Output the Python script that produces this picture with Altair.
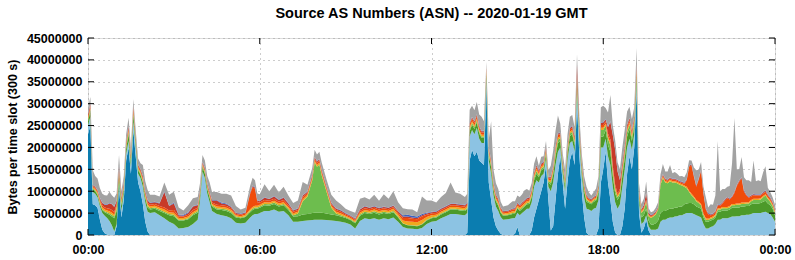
import altair as alt
import pandas as pd

# ---------------- data (values in millions of bytes per 5-min slot) ----------------
times = [
    "00:00","00:05","00:10","00:15","00:20","00:25","00:30","00:35","00:40","00:45",
    "00:50","00:55","01:00","01:05","01:10","01:15","01:20","01:25","01:30","01:35",
    "01:40","01:45","01:50","01:55","02:00","02:05","02:10","02:20","02:30","02:40",
    "02:50","03:00","03:10","03:20","03:30","03:40","03:50","03:55","04:00","04:05",
    "04:10","04:15","04:20","04:30","04:40","04:50","05:00","05:10","05:20","05:30",
    "05:40","05:45","05:50","05:55","06:00","06:10","06:20","06:30","06:40","06:50",
    "07:00","07:10","07:20","07:30","07:40","07:50","07:55","08:00","08:05","08:10",
    "08:20","08:30","08:40","08:50","09:00","09:10","09:20","09:30","09:40","09:50",
    "10:00","10:10","10:20","10:30","10:40","10:50","11:00","11:10","11:20","11:30",
    "11:40","11:50","12:00","12:10","12:20","12:30","12:40","12:50","13:00","13:10",
    "13:15","13:20","13:25","13:30","13:35","13:40","13:45","13:50","13:55","14:00",
    "14:05","14:10","14:15","14:20","14:25","14:30","14:40","14:50","14:55","15:00",
    "15:05","15:10","15:15","15:20","15:25","15:30","15:35","15:40","15:45","15:50",
    "15:55","16:00","16:05","16:10","16:15","16:20","16:25","16:30","16:35","16:40",
    "16:45","16:50","16:55","17:00","17:05","17:10","17:15","17:20","17:25","17:30",
    "17:35","17:40","17:45","17:50","17:55","18:00","18:05","18:10","18:15","18:20",
    "18:25","18:30","18:35","18:40","18:45","18:50","18:55","19:00","19:05","19:10",
    "19:15","19:20","19:25","19:30","19:35","19:40","19:45","19:50","19:55","20:00",
    "20:05","20:10","20:15","20:20","20:25","20:30","20:35","20:40","20:45","20:50",
    "20:55","21:00","21:05","21:10","21:15","21:20","21:25","21:30","21:35","21:40",
    "21:45","21:50","21:55","22:00","22:05","22:10","22:15","22:20","22:25","22:30",
    "22:35","22:40","22:45","22:50","22:55","23:00","23:05","23:10","23:15","23:20",
    "23:25","23:30","23:35","23:40","23:45","23:50","23:55","24:00",
]

as_dark_blue = [
    23, 25, 7, 6.8, 6.2, 3.5, 1.2, .4, .1, 0,
    0, 0, 2, 11, 4, 8, 17, 20, 14, 24,
    18, 12, 10, 7, 3, .8, 0, 0, 0, 0,
    0, 0, 0, 0, 0, 0, 0, 0, 0, 0,
    0, 0, 0, 0, 0, 0, 0, 0, 0, 0,
    0, 0, 0, 0, 0, 0, 0, 0, 0, 0,
    0, 0, 0, 0, 0, 0, 0, 0, 0, 0,
    0, 0, 0, 0, 0, 0, 0, 0, 0, 0,
    0, 0, 0, 0, 0, 0, 0, 0, 0, 0,
    0, 0, 0, 0, 0, 0, 0, 0, 0, 0,
    .5, 17, 19.5, 18, 19, 17, 16.5, 16, 34, 12,
    8, 4, 2, 1, .3, 0, 0, 0, .3, 1.8,
    0, 0, 0, 0, 0, 1, 4, 6, 8, 10,
    12, 16, 8, 1, 2, 8, 14, 18, 12, 6,
    12, 17, 19, 16, 30, 18, 10, 4, .5, 0,
    0, 0, 0, 1.5, 12, 15, 19, 12, 8, 3,
    .5, 0, 0, 2, 6, 14, 18, 15, 20, 33,
    5, .5, 1.5, 3.5, 1, 0, 0, 0, 0, 0,
    0, 0, 0, 0, 0, 0, 0, 0, 0, 0,
    0, 0, 0, 0, 0, 0, 0, 0, 0, 0,
    0, 0, 0, 0, 0, 0, 0, 0, 0, 0,
    0, 0, 0, 0, 0, 0, 0, 0, 0, 0,
    0, 0, 0, 0, 0, 0, 0, 0,
]

as_light_blue = [
    2, 2, 2.8, 2.6, 2.4, 3, 3.8, 4, 3.8, 3.2,
    2.2, .8, .5, 1, 1.5, 1.5, 1.5, 1.5, 1.5, 2,
    2, 2, 3, 4, 4.5, 4.5, 5, 5.2, 4.5, 3.8,
    3, 2.5, 1.5, 1.6, 1.8, 2.5, 3.5, 8, 14.5, 13,
    9.5, 7.5, 5.5, 4.8, 4.5, 4.3, 3.8, 2.8, 2.6, 2.8,
    4, 4.5, 4.8, 4.8, 5, 5.5, 5.5, 5.8, 5.3, 5.5,
    4.5, 3, 3, 3.2, 3.3, 3.4, 3.5, 3.5, 3.5, 3.5,
    3.4, 3.3, 3.2, 3, 2.8, 2.4, 1.5, 3.2, 3.8, 3.6,
    3.8, 3.5, 3.8, 3.6, 4, 3, 1.8, 1.5, 1.4, 1.3,
    1.6, 2.5, 3, 3.2, 3.8, 4.3, 4.8, 4.8, 4.6, 4.5,
    4.5, 5.5, 4.5, 5, 5.5, 5, 4.5, 5, 1.5, 5,
    6, 5, 4.5, 4.5, 3.8, 3.5, 3.6, 3.8, 3.6, 3.3,
    4.5, 5, 5.5, 6, 6, 6.5, 7, 6.5, 4, 3.5,
    2, 1.5, 3, 9, 10, 8, 5, 2, 2, 4,
    5, 4, 2.5, 3, 3, 3, 3.5, 4.5, 5.5, 5.8,
    5.5, 6, 6.2, 6.5, 8, 5, 3, 6, 8, 8,
    7, 6, 7, 9, 9, 6, 4, 4.5, 3, 1.5,
    2.5, 2, 1.5, 1, 1, 1.2, 1.2, 1.2, 1.5, 3,
    3.5, 3.5, 3.8, 4, 4, 4.2, 4.3, 4.5, 4.5, 4.8,
    5, 5, 5, 4.8, 4.5, 4.3, 4, 2.5, 1.5, 1.5,
    1.8, 2, 2.5, 3.5, 3.5, 3.8, 3.8, 3.8, 4, 4.2,
    4.2, 4.3, 4.3, 4.5, 4.5, 4.6, 4.6, 4.8, 5, 5,
    5, 5, 5.2, 5.3, 5, 4.8, 4, 3,
]

as_dark_green = [
    1, 1.2, .6, .6, .6, .6, .7, .8, 1, 1.4,
    2, 3, 3, 1.5, 1.2, 1, 1.2, 1.5, 1.2, 1.5,
    1, .8, .8, 1, 1, 1, .8, .8, 1, 1.2,
    1.5, 1.8, 1.8, 1.7, 1.8, 2, 1.6, 1.2, 1, 1,
    1, 1, 1, 1, 1.2, 1.2, 1.2, 1.2, 1.2, 1.3,
    1.2, 1.2, 1.2, 1.2, 1.2, 1.3, 1.2, 1.3, 1.2, 1.3,
    1.2, 1.2, 1.3, 1.5, 1.5, 1.6, 1.6, 1.6, 1.6, 1.6,
    1.5, 1.4, 1.3, 1.2, 1.1, 1, 1.2, 1.2, 1.2, 1.2,
    1.3, 1.2, 1.2, 1.2, 1.2, 1, .8, .7, .7, .7,
    .8, .8, .8, .8, .9, .9, 1, 1, 1, 1,
    1, 1.2, 1.2, 1.2, 1.3, 1.2, 1.2, 1.2, 1.2, 1.3,
    1.5, 1.3, 1.2, 1.2, 1, .9, .9, 1, 1, 1,
    1, 1, 1, 1, 1.1, 1.2, 1.5, 1.5, 1.2, 1.3,
    1.2, 1, 1, 1.5, 1.8, 2, 2, 1.5, 1.2, 1.2,
    1.5, 1.6, 1.5, 1.5, 1.5, 1.5, 1.3, 1.5, 1.6, 1.5,
    1.5, 1.6, 1.7, 1.8, 2.5, 2.5, 2, 2.5, 3, 2.5,
    2, 2, 2, 2.5, 2.5, 2.5, 2.2, 2, 1.8, 1.5,
    1.2, 1.5, 1.5, 1.5, 1.3, 1.2, 1.2, 1.5, 1.8, 2,
    2, 2, 2, 2, 2, 2, 2, 2, 2, 2.2,
    2.2, 2.3, 2.3, 2.2, 2, 2, 2, 1.5, 1.5, 1.5,
    1.5, 1.5, 1.5, 1.8, 1.8, 1.8, 1.8, 1.8, 1.8, 2,
    2, 2, 2, 2, 2, 2, 2, 2.2, 2.2, 2.2,
    2.2, 2.3, 2.4, 2.5, 2.2, 2, 2, 1.5,
]

as_light_green = [
    .4, .4, .2, .2, .2, .2, .2, .2, .3, .3,
    .4, .4, .5, .5, .4, .4, .4, .5, .4, .5,
    .4, .3, .3, .3, .3, .3, .3, .3, .3, .3,
    .3, .3, .2, .2, .2, .3, .3, .3, .3, .3,
    .3, .3, .3, .3, .3, .3, .3, .2, .2, .2,
    .3, .3, .3, .3, .3, .3, .3, .3, .3, .3,
    .3, .3, .6, 3, 4, 7.5, 11.5, 10.5, 11, 8.5,
    5, 1.5, .4, .3, .2, .2, .2, .3, .3, .3,
    .3, .3, .3, .3, .3, .2, .1, .1, .1, .1,
    .1, .2, .2, .2, .2, .2, .2, .2, .2, .2,
    .2, .4, .4, .4, .4, .4, .3, .3, .4, .4,
    .4, .3, .3, .3, .2, .2, .2, .2, .2, .2,
    .3, .3, .3, .3, .3, .4, .5, .6, .4, .4,
    .4, .4, .3, .5, .6, .8, .8, .6, .5, .5,
    .6, .6, .6, .6, .8, .6, .5, .4, .4, .3,
    .3, .3, .3, .4, 1.5, 1.5, 1, 1.5, 1.5, 1,
    .8, .6, .6, 1, 1, 1, 1, .8, .8, 1,
    .4, 1, 1.2, 1.5, 1, 1.5, 1.8, 2, 2.5, 6.5,
    7.5, 6.5, 6, 6.3, 6, 5.8, 5.5, 5, 4.8, 4,
    3.5, 2.5, 1.8, 1.5, 1.2, 1, .8, .6, .5, .4,
    .4, .4, .4, .5, .5, .5, .5, .5, .5, .6,
    .6, .6, .6, .6, .6, .6, .6, .7, .8, .8,
    .8, .8, 1, 1.2, 1, .8, .6, .5,
]

as_yellow = [
    .3, .3, .3, .3, .3, .4, .4, .4, .4, .5,
    .5, .5, .5, .4, .4, .3, .4, .4, .3, .4,
    .3, .3, .3, .4, .4, .4, .4, .4, .4, .5,
    .4, .5, .4, .4, .4, .4, .4, .3, .3, .3,
    .3, .3, .3, .4, .4, .4, .4, .3, .3, .3,
    .4, .4, .4, .4, .4, .4, .4, .4, .4, .4,
    .4, .4, .4, .4, .4, .4, .4, .4, .4, .4,
    .4, .4, .4, .4, .3, .3, .3, .4, .4, .4,
    .4, .4, .4, .4, .5, .5, .6, .8, .8, .8,
    .9, .6, .5, .4, .4, .4, .4, .4, .4, .4,
    .4, .5, .4, .4, .4, .4, .4, .4, .4, .4,
    .4, .4, .4, .4, .3, .3, .3, .4, .4, .4,
    .4, .4, .4, .4, .4, .4, .4, .5, .4, .4,
    .4, .4, .3, .4, .4, .5, .5, .4, .4, .4,
    .4, .4, .4, .4, .5, .4, .4, .4, .4, .3,
    .3, .3, .3, .4, .5, .5, .4, .5, .5, .5,
    .5, .4, .4, .4, .5, .5, .5, .5, .5, .5,
    .4, .3, .3, .3, .2, .2, .2, .2, .2, .3,
    .3, .3, .3, .3, .3, .3, .3, .3, .3, .3,
    .3, .3, .3, .3, .3, .3, .3, .3, .3, .3,
    .3, .3, .3, .3, .3, .3, .3, .3, .3, .3,
    .3, .3, .3, .3, .3, .3, .3, .3, .3, .3,
    .3, .3, .3, .3, .3, .3, .3, .3,
]

as_orange = [
    .4, .5, .3, .3, .3, .4, .5, .5, .5, .6,
    .6, .5, .5, .5, .4, .4, .4, .5, .4, .6,
    .4, .3, .3, .4, .4, .4, .4, .4, .4, .5,
    .4, .6, .3, .3, .4, .5, .4, .3, .3, .3,
    .3, .3, .3, .4, .4, .4, .4, .3, .3, .3,
    3.5, 4.5, 3.8, .8, .5, .5, .4, .5, .4, .5,
    .4, .4, .4, .5, .4, .5, .5, .5, .5, .5,
    .4, .4, .4, .4, .3, .3, .3, .4, .4, .4,
    .4, .4, .4, .4, .4, .4, .6, .8, .7, .7,
    .8, .5, .4, .4, .4, .4, .4, .4, .4, .4,
    .4, .6, .6, .6, .6, .5, .5, .5, .6, .5,
    .5, .5, .5, .5, .4, .3, .3, .4, .4, .4,
    .4, .4, .4, .4, .4, .5, .5, .5, .4, .4,
    .4, .5, .4, .5, .5, .6, .6, .5, .4, .4,
    .5, .5, .5, .5, .6, .5, .4, .4, .4, .3,
    .3, .3, .3, .4, .6, .6, .5, .6, .8, .8,
    .6, .5, .5, .5, .5, .5, .5, .5, .5, .6,
    .4, .3, .3, .3, .2, .2, .2, .2, .2, .3,
    .3, .3, .3, .3, .3, .3, .3, .3, .3, .4,
    1.5, 5.5, 6.5, 4.5, 3, 5, 7.5, 4.5, 2, 1,
    .5, .4, .5, .6, .6, .8, 1.5, 2, 1.5, 1.5,
    2.5, 4, 5, 5.5, 2.5, 1.5, 1, .8, .8, .7,
    .7, .6, .6, .6, .5, .4, .4, .3,
]

as_red = [
    .4, .5, .2, .2, .2, .3, .5, .6, .8, 1.2,
    1.3, 1.2, .8, .8, .5, .4, .4, .5, .4, .5,
    .4, .3, .3, .4, .4, .5, .4, .4, .6, 3.5,
    1, 1.5, .3, .2, .4, .8, .6, .3, .3, .3,
    .3, .4, .5, 1, .4, .4, .3, .2, .2, .2,
    .3, .3, .3, .3, .3, .5, .4, .5, .4, .5,
    .4, .3, .3, .4, .3, .3, .3, .3, .3, .3,
    .3, .3, .3, .3, .2, .2, .2, .3, .4, .3,
    .3, .3, .3, .3, .3, .3, .3, .3, .3, .3,
    .3, .3, .3, .3, .3, .3, .3, .3, .3, .3,
    .3, .3, .3, .3, .3, .3, .3, .3, .3, .3,
    .3, .3, .3, .3, .2, .2, .2, .2, .2, .2,
    .2, .3, .3, .3, .3, .3, .3, .3, .3, .3,
    .3, .3, .2, .3, .3, .3, .3, .3, .3, .3,
    .3, .3, .4, .5, 2.5, 1, .5, .3, .3, .2,
    .2, .2, .2, .3, .5, .6, .5, 1.5, 4, 7,
    8, 5, 2, 1, .8, .6, .5, .5, .5, 1,
    .3, .2, .5, 1.5, .3, .2, .2, .2, .2, .2,
    .2, .2, .2, .2, .2, .2, .2, .2, .2, .2,
    .2, .2, .2, .2, .2, .2, .2, .2, .2, .2,
    .2, .2, .2, .2, .2, .2, .2, .2, .2, .2,
    .2, .2, .2, .2, .2, .2, .2, .2, .2, .2,
    .2, .2, .2, .2, .2, .2, .2, .2,
]

as_blue = [
    .1, .1, .1, .1, .1, .1, .1, .1, .1, .1,
    .1, .1, .1, .2, .1, .1, .1, .1, .1, .1,
    .1, .1, .1, .1, .1, .1, .1, .1, .1, .2,
    .1, .2, .2, .2, .2, .1, .1, .1, .1, .1,
    .1, .1, .1, .1, .2, .2, .1, .1, .1, .1,
    .1, .1, .1, .1, .1, .1, .1, .1, .1, .1,
    .1, .1, .1, .1, .1, .1, .1, .1, .1, .1,
    .1, .1, .1, .1, .1, .1, .1, .1, .1, .1,
    .1, .1, .1, .1, .1, .1, .3, .4, .4, .3,
    .3, .2, .1, .1, .1, .1, .1, .1, .1, .1,
    .1, .1, .1, .1, .1, .1, .1, .1, .1, .1,
    .1, .1, .1, .1, .1, .1, .1, .1, .1, .1,
    .1, .1, .1, .1, .1, .1, .1, .1, .1, .1,
    .1, .1, .1, .1, .1, .1, .1, .1, .1, .1,
    .1, .1, .1, .1, .2, .1, .1, .1, .1, .1,
    .1, .1, .1, .1, .1, .1, .1, .1, .2, .2,
    .2, .1, .1, .1, .1, .1, .1, .1, .1, .1,
    .1, .1, .1, .1, .1, .1, .1, .1, .1, .1,
    .1, .1, .1, .1, .1, .1, .1, .1, .1, .1,
    .1, .1, .1, .1, .1, .1, .1, .1, .1, .1,
    .1, .1, .1, .1, .1, .1, .1, .1, .1, .1,
    .1, .1, .1, .1, .1, .1, .1, .1, .1, .1,
    .1, .1, .1, .1, .1, .1, .1, .1,
]

as_other = [
    1.4, 1.5, 3.3, 2.4, 2.6, 2.2, 2, 2.1, 2, 2.6,
    2, 2, 1.6, 2.4, 1.5, 1.4, 1.6, 1.8, 1.7, 1.4,
    1.4, 1.4, 1.3, 2.4, 2.2, 2.3, 1.8, 1.6, 1.5, 2,
    2.5, 2.5, 1.6, 1, 1.6, 1.8, 1.8, 1.5, 1.5, 1.7,
    1.7, 2.1, 1.8, 1.8, 2, 2.2, 2.5, 1.5, .9, 1,
    1.5, 1.8, 1.6, 1.6, 1.5, 3, 1.7, 2.6, 1.6, 2.4,
    1.7, 1.6, 1.8, 3, 1.5, 1.5, 1.6, 1.5, 1.6, 1.6,
    1.6, 1.8, 1.8, 1.3, 1, 1, 1.3, 2.4, 2, 1.8,
    2.6, 1.6, 2.8, 2, 3.2, 2, 1.6, 1.3, 1.4, 1,
    4, 2.8, 2.6, 2, 2.6, 3, 4.8, 2.5, 2.4, 1.8,
    2, 3, 2.5, 2.5, 2.8, 2.6, 3.2, 2.2, 1, 1.7,
    8.8, 3, 2.5, 2.2, 1.3, 1, 1.2, 1.6, 1.5, 1.6,
    1.8, 1.8, 2.2, 2, 1.5, 1.5, 2, 2, 1, 1.5,
    1.2, 1.3, 1.5, 2.5, 3.5, 3.5, 4, 2, 1.8, 2,
    2.5, 2.5, 2.4, 2, 2.2, 1.9, 1.8, 1.8, 1.8, 1.2,
    .8, 1, 1.5, 2, 3.5, 3.7, 2.5, 3.3, 6, 2,
    2, 2, 2.4, 3.5, 3.6, 3, 2.5, 2.6, 2, 3.5,
    1.5, 1.2, 1.4, 2.5, 1, .6, .5, .8, 1, 1.5,
    2.3, 1.6, 1.8, 2.8, 1.2, 1.5, 1.3, 1, 1.3, 1.2,
    1.5, 1.2, .8, 1.8, 3.5, 2, 1.8, 1.3, 2.5, 1.3,
    2.2, 2, 3.5, 14.5, 3, 3, 2.3, 2.3, 2.8, 7.5,
    16.8, 3.5, 2.5, 4.6, 3, 3.2, 3.7, 3, 7.6, 3,
    3.2, 3, 4.5, 5.5, 1.5, 1.2, 1, 1,
]

series_names = ["AS 1", "AS 2", "AS 3", "AS 4", "AS 5", "AS 6", "AS 7", "AS 8", "Other"]
series_colors = ["#0b7db0", "#8cc3e3", "#4c9a2a", "#6dbd4e", "#f0a81c",
                 "#f04c0a", "#c83a28", "#3c62c0", "#a2a2a2"]
series_values = [as_dark_blue, as_light_blue, as_dark_green, as_light_green,
                 as_yellow, as_orange, as_red, as_blue, as_other]

y_ticks_millions = [0, 5, 10, 15, 20, 25, 30, 35, 40, 45]
x_tick_hours = [0, 6, 12, 18, 24]
x_tick_labels = ["00:00", "06:00", "12:00", "18:00", "00:00"]

for s in series_values:
    assert len(s) == len(times), len(s)

# ---------------- build table ----------------
hours = [int(t[:2]) + int(t[3:]) / 60.0 for t in times]
rows = []
for k, (name, vals) in enumerate(zip(series_names, series_values)):
    for h, v in zip(hours, vals):
        rows.append({"hour": h, "asn": name, "k": k, "bytes": v * 1e6})
df = pd.DataFrame(rows)

y_tick_values = [int(v * 1000000) for v in y_ticks_millions]

label_expr = " : ".join(
    f"datum.value == {h} ? '{lab}'" for h, lab in zip(x_tick_hours, x_tick_labels)
) + " : ''"

FONT = "Liberation Sans"
W, H = 687, 197
TICK = 6

x_scale = alt.Scale(domain=[0, 24], nice=False, zero=False)
y_scale = alt.Scale(domain=[0, 45000000], nice=False)


def x_axis():
    return alt.Axis(values=x_tick_hours, labelExpr=label_expr, title=None,
                    grid=True, gridDash=[1, 4], gridColor="#9a9a9a",
                    ticks=False, domain=False, labelFont=FONT, labelFontSize=12.5,
                    labelFontWeight="bold", labelColor="black", labelPadding=8,
                    labelFlush=False, labelOverlap=False)


def y_axis():
    return alt.Axis(values=y_tick_values, format="d",
                    title="Bytes per time slot (300 s)",
                    titleFont=FONT, titleFontSize=12.5, titleFontWeight="bold",
                    titleColor="black", titleAngle=270, titleX=-76, titleY=H / 2,
                    titleAlign="center", titleBaseline="middle",
                    grid=True, gridDash=[1, 4], gridColor="#9a9a9a",
                    ticks=False, domain=False, labelFont=FONT, labelFontSize=12.5,
                    labelFontWeight="bold", labelColor="black", labelPadding=6,
                    labelOverlap=False, labelFlush=False, labelBound=False)


area = alt.Chart(df).mark_area(interpolate="linear", opacity=1).encode(
    x=alt.X("hour:Q", scale=x_scale, axis=x_axis()),
    y=alt.Y("bytes:Q", stack="zero", scale=y_scale, axis=y_axis()),
    color=alt.Color("asn:N", scale=alt.Scale(domain=series_names, range=series_colors),
                    legend=None),
    order=alt.Order("k:Q", sort="ascending"),
)

ytick_df = pd.DataFrame({"bytes": y_tick_values})
xtick_df = pd.DataFrame({"hour": x_tick_hours})

left_ticks = alt.Chart(ytick_df).mark_rule(color="black", strokeWidth=1).encode(
    y=alt.Y("bytes:Q", scale=y_scale, axis=y_axis()), x=alt.value(0), x2=alt.value(TICK))
right_ticks = alt.Chart(ytick_df).mark_rule(color="black", strokeWidth=1).encode(
    y=alt.Y("bytes:Q", scale=y_scale, axis=y_axis()), x=alt.value(W - TICK), x2=alt.value(W))
bottom_ticks = alt.Chart(xtick_df).mark_rule(color="black", strokeWidth=1).encode(
    x=alt.X("hour:Q", scale=x_scale, axis=x_axis()), y=alt.value(H - TICK), y2=alt.value(H))
top_ticks = alt.Chart(xtick_df).mark_rule(color="black", strokeWidth=1).encode(
    x=alt.X("hour:Q", scale=x_scale, axis=x_axis()), y=alt.value(0), y2=alt.value(TICK))

chart = alt.layer(area, left_ticks, right_ticks, bottom_ticks, top_ticks).properties(
    width=W, height=H,
    title=alt.Title("Source AS Numbers (ASN) -- 2020-01-19 GMT", font=FONT, fontSize=14.5,
                    fontWeight="bold", color="black", anchor="middle", frame="group",
                    offset=11),
    autosize=alt.AutoSizeParams(type="none"),
    padding={"left": 88, "top": 38, "right": 20, "bottom": 25},
).configure_view(stroke="black", strokeWidth=1).configure(background="white")

chart.save("out.html", embed_options={"renderer": "svg", "actions": False})
